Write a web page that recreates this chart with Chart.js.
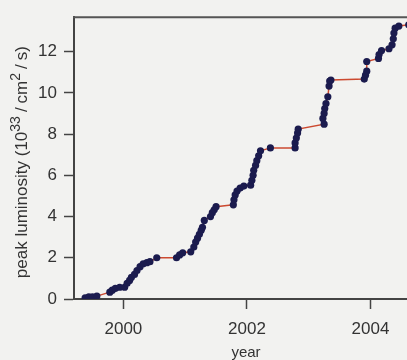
<!DOCTYPE html>
<html>
<head>
<meta charset="utf-8">
<script src="https://cdn.jsdelivr.net/npm/chart.js@4/dist/chart.umd.min.js"></script>
<style>
  html, body { margin: 0; padding: 0; background: #f2f2f0; }
  #wrap { width: 407px; height: 360px; overflow: hidden; }
</style>
</head>
<body>
<div id="wrap"><canvas id="lumi" width="422" height="360"></canvas></div>
<script>
// Peak luminosity per run
const years = [1999.38, 1999.44, 1999.50, 1999.57, 1999.78, 1999.82, 1999.87, 1999.94, 2000.02, 2000.06,
  2000.10, 2000.13, 2000.18, 2000.22, 2000.27, 2000.32, 2000.38, 2000.43, 2000.54, 2000.86,
  2000.91, 2000.96, 2001.09, 2001.14, 2001.17, 2001.20, 2001.23, 2001.26, 2001.28, 2001.31,
  2001.41, 2001.44, 2001.47, 2001.50, 2001.78, 2001.79, 2001.81, 2001.84, 2001.89, 2001.95,
  2002.06, 2002.08, 2002.10, 2002.11, 2002.14, 2002.16, 2002.19, 2002.22, 2002.38, 2002.78,
  2002.78, 2002.80, 2002.82, 2002.83, 2003.25, 2003.23, 2003.25, 2003.26, 2003.28, 2003.31,
  2003.33, 2003.34, 2003.36, 2003.90, 2003.92, 2003.94, 2003.94, 2004.13, 2004.14, 2004.18,
  2004.30, 2004.35, 2004.37, 2004.38, 2004.40, 2004.46, 2004.62];
const luminosity = [0.05, 0.10, 0.10, 0.14, 0.33, 0.43, 0.52, 0.57, 0.57, 0.76,
  0.90, 1.05, 1.19, 1.38, 1.57, 1.71, 1.76, 1.81, 2.00, 2.00,
  2.14, 2.24, 2.29, 2.52, 2.76, 2.95, 3.14, 3.33, 3.48, 3.81,
  4.00, 4.19, 4.33, 4.48, 4.57, 4.81, 5.05, 5.24, 5.38, 5.48,
  5.52, 5.76, 6.00, 6.24, 6.48, 6.71, 6.95, 7.19, 7.33, 7.33,
  7.57, 7.81, 8.05, 8.24, 8.48, 8.76, 9.00, 9.24, 9.48, 9.81,
  10.33, 10.57, 10.62, 10.67, 10.86, 11.05, 11.52, 11.67, 11.86, 12.05,
  12.14, 12.33, 12.62, 12.90, 13.14, 13.24, 13.30];
const xTicks = [2000, 2002, 2004];
const yTicks = [0, 2, 4, 6, 8, 10, 12];
// y title pieces: [text, superscript?]
const yTitleParts = [['peak luminosity (10', false], ['33', true], ['/', false], ['cm', false],
  ['2', true], ['/', false], ['s)', false]];

const points = years.map((x, i) => ({ x: x, y: luminosity[i] }));
const axisColor = '#444';
const textColor = '#333';
const fontFamily = 'Liberation Sans';

// top frame line + y title with real superscripts
const extras = {
  id: 'extras',
  afterDraw(chart) {
    const ctx = chart.ctx;
    const a = chart.chartArea;
    ctx.save();
    ctx.strokeStyle = '#555';
    ctx.lineWidth = 2;
    ctx.beginPath();
    ctx.moveTo(a.left - 1, a.top);
    ctx.lineTo(a.right, a.top);
    ctx.stroke();

    const big = '17px "' + fontFamily + '"';
    const small = '14px "' + fontFamily + '"';
    const gap = t => (t === '/' ? 4 : 0);
    let total = 0;
    yTitleParts.forEach(p => {
      ctx.font = p[1] ? small : big;
      total += ctx.measureText(p[0]).width + 2 * gap(p[0]);
    });
    ctx.translate(27, (a.top + a.bottom) / 2 + 4);
    ctx.rotate(-Math.PI / 2);
    ctx.fillStyle = textColor;
    ctx.textBaseline = 'alphabetic';
    let x = -total / 2;
    yTitleParts.forEach(p => {
      ctx.font = p[1] ? small : big;
      x += gap(p[0]);
      ctx.fillText(p[0], x, p[1] ? -7 : 0);
      x += ctx.measureText(p[0]).width + gap(p[0]);
    });
    ctx.restore();
  }
};

new Chart(document.getElementById('lumi'), {
  type: 'line',
  data: {
    datasets: [{
      data: points,
      borderColor: '#cc4a30',
      borderWidth: 1.5,
      pointBackgroundColor: '#1b1b4e',
      pointBorderColor: '#1b1b4e',
      pointBorderWidth: 0,
      pointRadius: 3.6,
      tension: 0
    }]
  },
  options: {
    responsive: false,
    animation: false,
    layout: { padding: { top: 12, left: 8, right: 0, bottom: 0 } },
    plugins: { legend: { display: false }, tooltip: { enabled: false } },
    scales: {
      x: {
        type: 'linear',
        min: 1999.2,
        max: 2004.77,
        afterBuildTicks: s => { s.ticks = xTicks.map(v => ({ value: v })); },
        afterFit: s => { s.height = 61; },
        grid: { drawOnChartArea: false, tickLength: 10, tickColor: axisColor, tickWidth: 1.5 },
        border: { color: axisColor, width: 2 },
        ticks: {
          padding: 10,
          color: textColor,
          font: { family: fontFamily, size: 17 },
          callback: v => String(v)
        },
        title: {
          display: true,
          text: 'year',
          color: textColor,
          padding: { top: 0, bottom: 0 },
          font: { family: fontFamily, size: 15, lineHeight: 0.9 }
        }
      },
      y: {
        min: 0,
        max: 13.67,
        afterBuildTicks: s => { s.ticks = yTicks.map(v => ({ value: v })); },
        afterFit: s => { s.width = 66; },
        grid: { drawOnChartArea: false, tickLength: 10, tickColor: axisColor, tickWidth: 1.5 },
        border: { color: axisColor, width: 2 },
        ticks: {
          padding: 7,
          color: textColor,
          font: { family: fontFamily, size: 17 }
        }
      }
    }
  },
  plugins: [extras]
});
</script>
</body>
</html>
